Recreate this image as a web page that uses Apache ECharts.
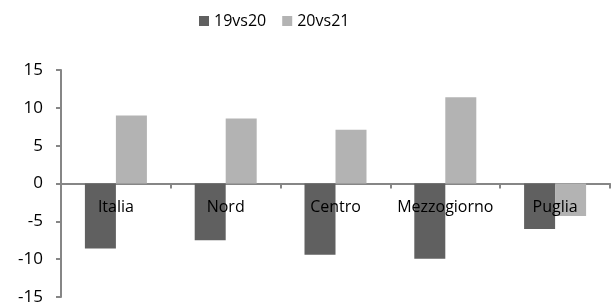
<!DOCTYPE html>
<html>
<head>
<meta charset="utf-8">
<script src="https://cdn.jsdelivr.net/npm/echarts@6/dist/echarts.min.js"></script>
<style>
  html, body { margin: 0; padding: 0; background: #fff; }
  #chart { width: 611px; height: 307px; }
</style>
</head>
<body>
<div id="chart"></div>
<script>
var categories = ['Italia', 'Nord', 'Centro', 'Mezzogiorno', 'Puglia'];
var seriesNames = ['19vs20', '20vs21'];
var values1920 = [-8.6, -7.5, -9.4, -9.95, -6.0];
var values2021 = [9.0, 8.6, 7.1, 11.4, -4.3];
var yTicks = [-15, -10, -5, 0, 5, 10, 15];

var chart = echarts.init(document.getElementById('chart'));
chart.setOption({
  animation: false,
  textStyle: { fontFamily: 'Open Sans' },
  legend: {
    top: 8,
    left: 194,
    itemWidth: 10,
    itemHeight: 10,
    itemGap: 16,
    icon: 'rect',
    textStyle: { fontSize: 16, color: '#000', fontFamily: 'Open Sans' },
    data: seriesNames
  },
  grid: { left: 61, right: 1, top: 70, bottom: 10, containLabel: false, outerBoundsMode: 'none' },
  xAxis: [
    {
      type: 'category',
      data: categories,
      axisLine: { onZero: true, lineStyle: { color: '#868686', width: 2 } },
      axisTick: { show: true, length: 5, lineStyle: { color: '#868686', width: 2 } },
      axisLabel: { show: false }
    },
    {
      // label-only axis sitting on the zero line, drawn above the bars
      type: 'category',
      data: categories,
      position: 'bottom',
      offset: -113,
      z: 5,
      axisLine: { show: false },
      axisTick: { show: false },
      axisLabel: { interval: 0, hideOverlap: false, margin: 15, fontSize: 16, color: '#000', fontFamily: 'Open Sans' }
    }
  ],
  yAxis: {
    type: 'value',
    min: yTicks[0],
    max: yTicks[yTicks.length - 1],
    interval: 5,
    axisLine: { show: true, lineStyle: { color: '#868686', width: 2 } },
    axisTick: { show: true, length: 5, lineStyle: { color: '#868686', width: 2 } },
    axisLabel: { margin: 18, fontSize: 17, color: '#000', fontFamily: 'Open Sans' },
    splitLine: { show: false }
  },
  series: [
    {
      name: seriesNames[0],
      type: 'bar',
      data: values1920,
      barWidth: 31,
      barGap: '0%',
      itemStyle: { color: '#606060' }
    },
    {
      name: seriesNames[1],
      type: 'bar',
      data: values2021,
      barWidth: 31,
      barGap: '0%',
      itemStyle: { color: '#b3b3b3' }
    }
  ]
});
</script>
</body>
</html>
